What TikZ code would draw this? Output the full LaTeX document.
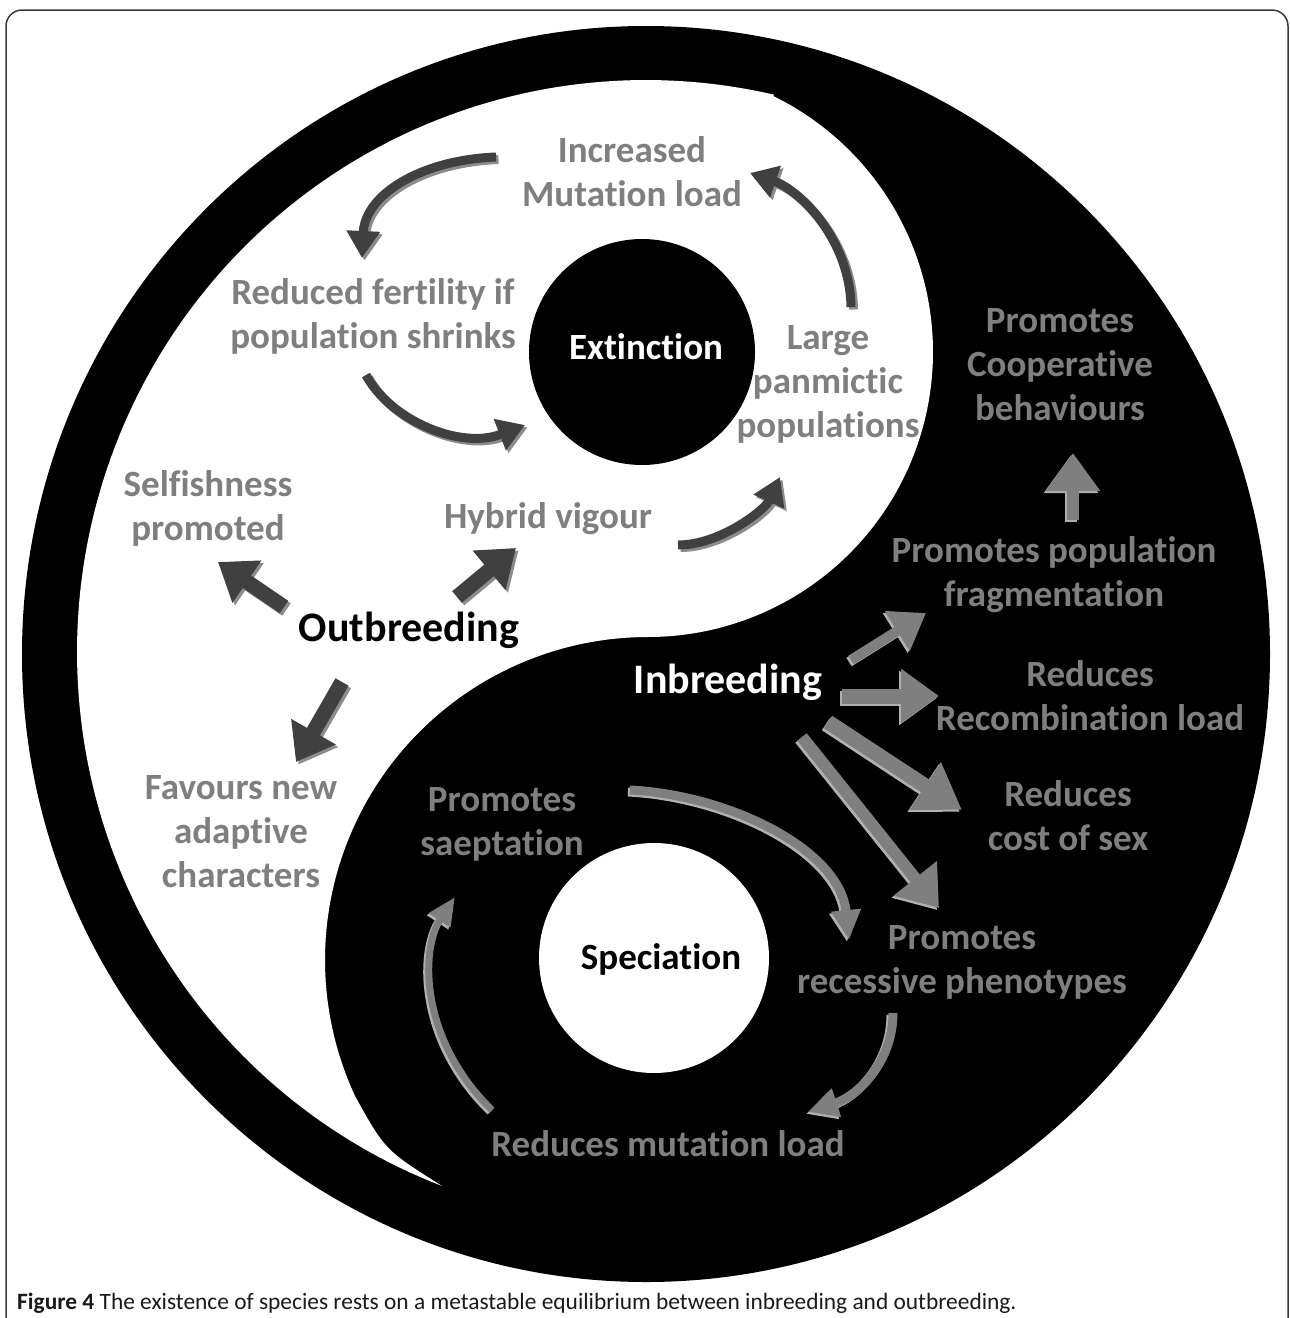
\documentclass[tikz,border=0pt]{standalone}
\usepackage{fontspec}
\setmainfont{Carlito}[Ligatures=NoCommon]
\usetikzlibrary{arrows.meta}
\definecolor{txtgray}{HTML}{7F7F7F}
\definecolor{darr}{HTML}{404040}
\definecolor{darrsh}{HTML}{8C8C8C}
\definecolor{larr}{HTML}{7F7F7F}
\definecolor{larrsh}{HTML}{B0B0B0}
\definecolor{framecol}{HTML}{3A3A3A}
\definecolor{capcol}{HTML}{1A1A1A}
\begin{document}
\begin{tikzpicture}[x=1pt,y=-1pt,
  lbl/.style={font=\bfseries\fontsize{37}{44}\selectfont, text=txtgray, align=center, inner sep=0pt},
  keylbl/.style={font=\bfseries\fontsize{42}{50}\selectfont, inner sep=0pt},
  circlbl/.style={font=\bfseries\fontsize{37}{44}\selectfont, inner sep=0pt},
  wblk/.style={draw=darr, line width=15pt, -{Triangle[width=49pt,length=35pt]}},
  bblk/.style={draw=larr, line width=#1, -{Triangle[width=52pt,length=38pt]}},
  wcur/.style={draw=darr, line width=9pt, -{Triangle[width=32pt,length=27pt]}},
  bcur/.style={draw=larr, line width=9pt, -{Triangle[width=28pt,length=30pt]}},
  wsh/.style={draw=darrsh, transform canvas={shift={(2.5pt,-2.5pt)}}},
  bsh/.style={draw=larrsh, transform canvas={shift={(-2pt,-2pt)}}}
]
\useasboundingbox (0,0) rectangle (1290,1318);
\fill[white] (0,0) rectangle (1290,1318);
% frame
\draw[framecol, line width=1.5pt, rounded corners=16pt] (6,1340) -- (6,10) -- (1288,10) -- (1288,1340);
% yin-yang
\fill[black] (646,654) ellipse [x radius=624, y radius=628];
\fill[white] plot[domain=111:283, samples=150, variable=\t] ({646+569*cos(\t)},{652+572*sin(\t)})
  -- plot[domain=-63.9:90, samples=120, variable=\t] ({648+285*cos(\t)},{352+285*sin(\t)})
  -- plot[domain=270:155, samples=120, variable=\t] ({648+323*cos(\t)},{960+323*sin(\t)})
  .. controls (385,1150) .. cycle;
\fill[black] (642,352) circle [radius=113];
\fill[white] (654,958) circle [radius=115];

% labels
\node[lbl] (incr) at (632,172) {Increased\\Mutation load};
\node[lbl] (redf) at (373,316) {Reduced fertility if\\population shrinks};
\node[circlbl, text=white] (ext) at (646,347) {Extinction};
\node[lbl] (large) at (828,384) {Large\\panmictic\\populations};
\node[lbl] (coop) at (1060,365) {Promotes\\Cooperative\\behaviours};
\node[lbl] (self) at (208,508) {Selfishness\\promoted};
\node[lbl] (hyb) at (548,519) {Hybrid vigour};
\node[keylbl, text=black] (outb) at (409,630) {Outbreeding};
\node[keylbl, text=white] (inb) at (728,682) {Inbreeding};
\node[lbl] (frag) at (1054,575) {Promotes population\\fragmentation};
\node[lbl] (recomb) at (1090,696) {Reduces\\Recombination load};
\node[lbl] (cost) at (1068,816) {Reduces\\cost of sex};
\node[lbl] (fav) at (241,832) {Favours new\\adaptive\\characters};
\node[lbl] (saep) at (502,824) {Promotes\\saeptation};
\node[circlbl, text=black] (spec) at (661,959) {Speciation};
\node[lbl] (recess) at (962,962) {Promotes\\recessive phenotypes};
\node[lbl] (mutl) at (668,1144) {Reduces mutation load};
\node[anchor=west, font=\fontsize{23.4}{28}\selectfont, text=capcol, inner sep=0pt] (cap) at (17,1303)
  {\textbf{Figure 4} The existence of species rests on a metastable equilibrium between inbreeding and outbreeding.};

% arrow end points
\coordinate (a1s) at (496,157); \coordinate (a1e) at (362,258);
\coordinate (a2s) at (366,375); \coordinate (a2e) at (525,425);
\coordinate (a3s) at (851,307); \coordinate (a3e) at (750,173);
\coordinate (a4s) at (678,545); \coordinate (a4e) at (780,477);
\coordinate (o1s) at (284,607); \coordinate (o1e) at (218,562);
\coordinate (o2s) at (457,597); \coordinate (o2e) at (516,548);
\coordinate (o3s) at (342,682); \coordinate (o3e) at (296,762);
\coordinate (u1s) at (1073,520); \coordinate (u1e) at (1073,453);
\coordinate (i1s) at (851,660); \coordinate (i1e) at (926,613);
\coordinate (i2s) at (842,696); \coordinate (i2e) at (939,696);
\coordinate (i3s) at (828,722); \coordinate (i3e) at (962,810);
\coordinate (i4s) at (802,737); \coordinate (i4e) at (939,908);
\coordinate (c1s) at (630,790); \coordinate (c1e) at (849,940);
\coordinate (c2s) at (893,1013); \coordinate (c2e) at (808,1112);
\coordinate (c3s) at (492,1110); \coordinate (c3e) at (455,897);

% curved arrows in the white field
\draw[wcur, wsh] (a1s) .. controls (420,160) and (365,195) .. (a1e);
\draw[wcur] (a1s) .. controls (420,160) and (365,195) .. (a1e);
\draw[wcur, wsh] (a2s) .. controls (390,420) and (460,450) .. (a2e);
\draw[wcur] (a2s) .. controls (390,420) and (460,450) .. (a2e);
\draw[wcur, wsh] (a3s) .. controls (850,240) and (800,190) .. (a3e);
\draw[wcur] (a3s) .. controls (850,240) and (800,190) .. (a3e);
\draw[wcur, wsh] (a4s) .. controls (720,545) and (765,510) .. (a4e);
\draw[wcur] (a4s) .. controls (720,545) and (765,510) .. (a4e);
% straight arrows from Outbreeding
\draw[wblk, wsh] (o1s) -- (o1e);
\draw[wblk] (o1s) -- (o1e);
\draw[wblk, wsh] (o2s) -- (o2e);
\draw[wblk] (o2s) -- (o2e);
\draw[wblk, wsh] (o3s) -- (o3e);
\draw[wblk] (o3s) -- (o3e);
% arrows in the black field
\draw[bblk=12pt, bsh] (u1s) -- (u1e);
\draw[bblk=12pt] (u1s) -- (u1e);
\draw[bblk=10pt, bsh, -{Triangle[width=45pt,length=34pt]}] (i1s) -- (i1e);
\draw[bblk=10pt, -{Triangle[width=45pt,length=34pt]}] (i1s) -- (i1e);
\draw[bblk=15pt, bsh] (i2s) -- (i2e);
\draw[bblk=15pt] (i2s) -- (i2e);
\draw[bblk=15pt, bsh, -{Triangle[width=54pt,length=44pt]}] (i3s) -- (i3e);
\draw[bblk=15pt, -{Triangle[width=54pt,length=44pt]}] (i3s) -- (i3e);
\draw[bblk=12pt, bsh, -{Triangle[width=53pt,length=38pt]}] (i4s) -- (i4e);
\draw[bblk=12pt, -{Triangle[width=53pt,length=38pt]}] (i4s) -- (i4e);
\draw[bcur, bsh] (c1s) .. controls (730,795) and (840,850) .. (c1e);
\draw[bcur] (c1s) .. controls (730,795) and (840,850) .. (c1e);
\draw[bcur, bsh] (c2s) .. controls (893,1060) and (860,1095) .. (c2e);
\draw[bcur] (c2s) .. controls (893,1060) and (860,1095) .. (c2e);
\draw[bcur, bsh, line width=7pt, -{Triangle[width=24pt,length=28pt]}] (c3s) .. controls (420,1040) and (420,950) .. (c3e);
\draw[bcur, line width=7pt, -{Triangle[width=24pt,length=28pt]}] (c3s) .. controls (420,1040) and (420,950) .. (c3e);
\end{tikzpicture}
\end{document}
